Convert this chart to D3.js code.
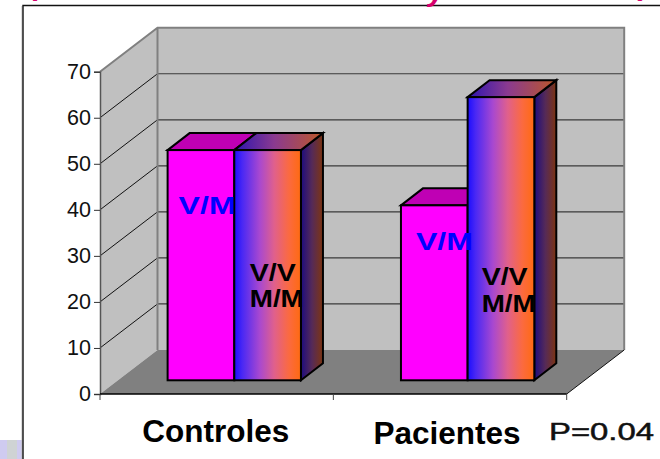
<!DOCTYPE html>
<html>
<head>
<meta charset="utf-8">
<script src="https://cdnjs.cloudflare.com/ajax/libs/d3/7.8.5/d3.min.js"></script>
<style>
html,body{margin:0;padding:0;background:#fff;}
svg{display:block;}
text{font-family:"Liberation Sans",Arial,sans-serif;}
</style>
</head>
<body>
<div id="chart"></div>
<script>
const categories = ["Controles", "Pacientes"];
const seriesNames = ["V/M", "V/V M/M"];
const vmValues = [50, 38];
const vvmmValues = [50, 61.5];
const yTicks = [0, 10, 20, 30, 40, 50, 60, 70];
const pValue = "P=0.04";

const W = 660, H = 459;
const svg = d3.select("#chart").append("svg").attr("width", W).attr("height", H);
const defs = svg.append("defs");

function grad(id, stops) {
  const g = defs.append("linearGradient").attr("id", id).attr("x1", 0).attr("x2", 1).attr("y1", 0).attr("y2", 0);
  stops.forEach(s => g.append("stop").attr("offset", s[0]).attr("stop-color", s[1]));
}
grad("front", [[0, "#1a0cff"], [0.12, "#4a28f4"], [0.38, "#a848d0"], [0.6, "#e0608c"], [0.82, "#fb6a40"], [1, "#ff6a10"]]);
grad("side", [[0, "#1c0c80"], [0.5, "#552a58"], [1, "#7e3510"]]);
grad("top", [[0, "#2c14b0"], [0.45, "#8a3a90"], [1, "#bd5828"]]);

// scales
const y = d3.scaleLinear().domain([0, 70]).range([394, 71.7]);
const x = d3.scaleBand().domain(categories).range([100, 566.7]);
const inner = d3.scaleBand().domain(seriesNames).range([0, x.bandwidth()]).paddingInner(0).paddingOuter(0.75);

// 3-D projection of the box and bars
const depth = { dx: 57.5, dy: -44 };
const barDepth = { dx: 22, dy: -17 };
const barLift = { dx: 17.6, dy: -13.7 };
const x0 = x.range()[0], x1 = x.range()[1];
const y0 = y(0), yT = y(70);
const poly = pts => pts.map(p => p.join(",")).join(" ");

// frame of the slide and cropped decoration
svg.append("rect").attr("x", 0).attr("y", 440).attr("width", 22).attr("height", 19).attr("fill", "#cfcbf0");
svg.append("rect").attr("x", 7).attr("y", 440).attr("width", 10).attr("height", 19).attr("fill", "#cfd3d4");
svg.append("rect").attr("x", 21.5).attr("y", 6).attr("width", 1).attr("height", 453).attr("fill", "#bbb");
svg.append("path").attr("d", `M23,${H}V5.5H${W}`).attr("fill", "none").attr("stroke", "#111").attr("stroke-width", 1.4);

const title = svg.append("g").attr("fill", "#d6006e").attr("font-weight", "bold").attr("font-style", "italic").attr("font-size", 30);
title.append("text").attr("x", 30).attr("y", -5).text("(");
title.append("text").attr("x", 428).attr("y", 1).text("y");
title.append("text").attr("x", 640).attr("y", -5).text(")");

// walls
svg.append("polygon").attr("points", poly([[x0, y0], [x0 + depth.dx, y0 + depth.dy], [x0 + depth.dx, yT + depth.dy], [x0, yT]]))
  .attr("fill", "#c0c0c0");
svg.append("rect").attr("x", x0 + depth.dx).attr("y", yT + depth.dy).attr("width", x1 - x0).attr("height", y0 - yT).attr("fill", "#c0c0c0");

// gridlines
const gridVals = yTicks.filter(v => v > 0 && v < 70);
svg.append("g").selectAll("line").data(gridVals).join("line")
  .attr("x1", x0 + depth.dx).attr("x2", x1 + depth.dx)
  .attr("y1", d => y(d) + depth.dy).attr("y2", d => y(d) + depth.dy)
  .attr("stroke", "#3a3a3a").attr("stroke-width", 1.2);
svg.append("g").selectAll("line").data(gridVals).join("line")
  .attr("x1", x0).attr("x2", x0 + depth.dx)
  .attr("y1", d => y(d)).attr("y2", d => y(d) + depth.dy)
  .attr("stroke", "#111").attr("stroke-width", 1);

// wall edges
svg.append("path")
  .attr("d", `M${x0},${yT}L${x0 + depth.dx},${yT + depth.dy}H${x1 + depth.dx}V${y0 + depth.dy}M${x0 + depth.dx},${yT + depth.dy}V${y0 + depth.dy}`)
  .attr("fill", "none").attr("stroke", "#808080").attr("stroke-width", 2);

// floor
svg.append("polygon").attr("points", poly([[x0, y0], [x1, y0], [x1 + depth.dx, y0 + depth.dy], [x0 + depth.dx, y0 + depth.dy]]))
  .attr("fill", "#808080");
svg.append("path").attr("d", `M${x1},${y0}L${x1 + depth.dx},${y0 + depth.dy}`).attr("fill", "none").attr("stroke", "#111").attr("stroke-width", 1);

// bars
const bars = [];
categories.forEach((c, i) => {
  bars.push({ cat: c, name: seriesNames[0], v: vmValues[i], i: 0 });
  bars.push({ cat: c, name: seriesNames[1], v: vvmmValues[i], i: 1 });
});
const bw = inner.bandwidth();
const bx = d => x(d.cat) + inner(d.name) + barLift.dx;
const by = d => y(d.v) + barLift.dy;
const yb = y(0) + barLift.dy;
const stroke = g => g.attr("stroke", "#000").attr("stroke-width", 2).attr("stroke-linejoin", "miter");

const barG = svg.append("g").selectAll("g").data(bars).join("g");
barG.filter(d => d.i === 1).append("polygon").call(stroke)
  .attr("points", d => poly([[bx(d) + bw, by(d)], [bx(d) + bw + barDepth.dx, by(d) + barDepth.dy], [bx(d) + bw + barDepth.dx, yb + barDepth.dy], [bx(d) + bw, yb]]))
  .attr("fill", "url(#side)");
barG.append("polygon").call(stroke)
  .attr("points", d => poly([[bx(d), by(d)], [bx(d) + barDepth.dx, by(d) + barDepth.dy], [bx(d) + bw + barDepth.dx, by(d) + barDepth.dy], [bx(d) + bw, by(d)]]))
  .attr("fill", d => d.i === 0 ? "#bf00b4" : "url(#top)");
barG.append("rect").call(stroke)
  .attr("x", bx).attr("y", by).attr("width", bw).attr("height", d => yb - by(d))
  .attr("fill", d => d.i === 0 ? "#ff00ff" : "url(#front)");

// in-bar labels
const stretched = (sel, len) => sel.attr("textLength", len).attr("lengthAdjust", "spacingAndGlyphs");
const vmLevels = [36.2, 28.2];
const vvLevels = [21.6, 20.6];
const mmLevels = [16, 14.8];
categories.forEach((c, i) => {
  const bl = x(c) + inner(seriesNames[0]) + barLift.dx;
  const br = x(c) + inner(seriesNames[1]) + barLift.dx;
  svg.append("text").attr("x", bl + (i ? 15 : 11)).attr("y", y(vmLevels[i]) + barLift.dy)
    .attr("fill", "#0000ff").attr("font-weight", "bold").attr("font-size", 24).text("V/M").call(stretched, 57);
  svg.append("text").attr("x", br + (i ? 14 : 15.5)).attr("y", y(vvLevels[i]) + barLift.dy)
    .attr("fill", "#000").attr("font-weight", "bold").attr("font-size", 24).text("V/V").call(stretched, 46);
  svg.append("text").attr("x", br + (i ? 14 : 15.5)).attr("y", y(mmLevels[i]) + barLift.dy)
    .attr("fill", "#000").attr("font-weight", "bold").attr("font-size", 23).text("M/M").call(stretched, 54);
});

// axes
const yAxis = d3.axisLeft(y).tickValues(yTicks).tickSize(6).tickPadding(3);
const gy = svg.append("g").attr("transform", `translate(${x0},0)`).call(yAxis);
gy.selectAll("text").attr("font-size", 21.5).attr("fill", "#111").attr("font-family", '"Liberation Sans",Arial,sans-serif');
gy.selectAll("line").attr("stroke", "#333");
gy.select(".domain").attr("stroke", "#555").attr("stroke-width", 1.5);

const gx = svg.append("g");
gx.append("line").attr("x1", x0).attr("x2", x1).attr("y1", y0).attr("y2", y0).attr("stroke", "#000").attr("stroke-width", 1.3);
gx.selectAll("line.t").data([x0, x("Pacientes"), x1]).join("line").attr("class", "t")
  .attr("x1", d => d).attr("x2", d => d).attr("y1", y0).attr("y2", y0 + 6).attr("stroke", "#444");

svg.append("g").selectAll("text").data(categories).join("text")
  .attr("x", d => x(d) + x.bandwidth() / 2 + (d === "Pacientes" ? -3 : -1))
  .attr("y", d => d === "Pacientes" ? 443.5 : 441.7)
  .attr("text-anchor", "middle").attr("font-weight", "bold").attr("font-size", 31.5).attr("fill", "#000")
  .text(d => d);

svg.append("text").attr("x", 549).attr("y", 440).attr("font-size", 24).attr("fill", "#111")
  .attr("stroke", "#111").attr("stroke-width", 0.5)
  .text(pValue).call(stretched, 105);
</script>
</body>
</html>
